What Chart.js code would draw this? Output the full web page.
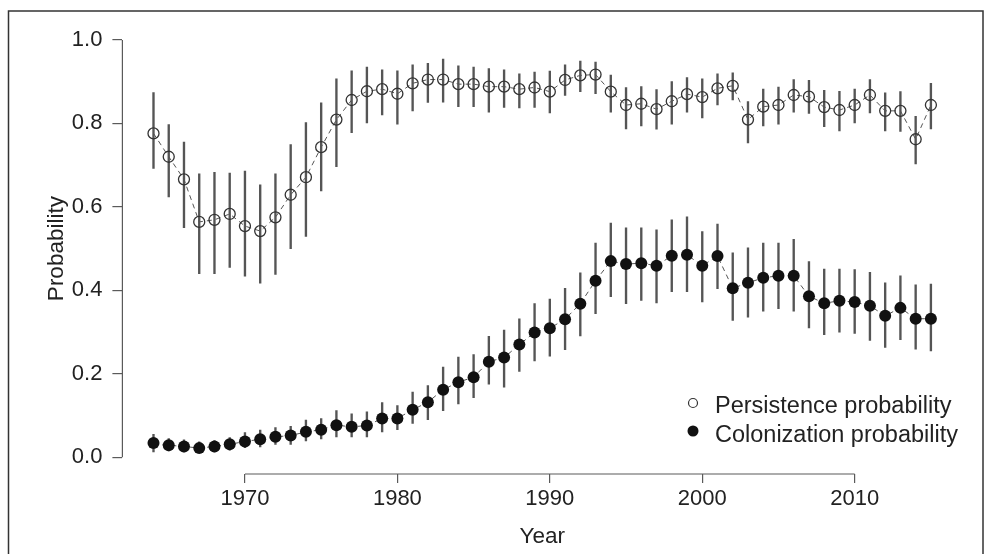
<!DOCTYPE html>
<html>
<head>
<meta charset="utf-8">
<script src="https://cdn.jsdelivr.net/npm/chart.js@4.4.1/dist/chart.umd.min.js"></script>
<style>
  html, body { margin: 0; padding: 0; background: #fff; }
  #wrap { width: 990px; height: 554px; }
</style>
</head>
<body>
<div id="wrap"><canvas id="c" width="990" height="554"></canvas></div>
<script>
const years = [1964,1965,1966,1967,1968,1969,1970,1971,1972,1973,1974,1975,1976,1977,1978,1979,1980,1981,1982,1983,1984,1985,1986,1987,1988,1989,1990,1991,1992,1993,1994,1995,1996,1997,1998,1999,2000,2001,2002,2003,2004,2005,2006,2007,2008,2009,2010,2011,2012,2013,2014,2015];

const persistence = [0.776,0.720,0.666,0.564,0.569,0.583,0.554,0.542,0.575,0.629,0.671,0.743,0.809,0.856,0.877,0.882,0.871,0.896,0.905,0.905,0.894,0.894,0.888,0.888,0.882,0.886,0.876,0.904,0.915,0.917,0.876,0.844,0.847,0.834,0.853,0.870,0.863,0.884,0.890,0.809,0.840,0.844,0.868,0.864,0.839,0.832,0.844,0.868,0.830,0.830,0.762,0.844];
const persistenceLow = [0.692,0.624,0.550,0.440,0.440,0.455,0.434,0.417,0.438,0.500,0.529,0.638,0.696,0.778,0.801,0.820,0.798,0.830,0.850,0.851,0.840,0.840,0.827,0.838,0.837,0.838,0.825,0.867,0.876,0.871,0.827,0.787,0.794,0.786,0.798,0.827,0.813,0.844,0.856,0.753,0.794,0.798,0.827,0.824,0.792,0.782,0.801,0.825,0.782,0.781,0.703,0.787];
const persistenceHigh = [0.874,0.797,0.755,0.679,0.683,0.681,0.686,0.653,0.679,0.749,0.802,0.849,0.907,0.926,0.935,0.928,0.926,0.940,0.944,0.954,0.938,0.935,0.931,0.928,0.919,0.923,0.925,0.940,0.949,0.947,0.916,0.886,0.888,0.881,0.900,0.910,0.907,0.919,0.921,0.852,0.882,0.887,0.905,0.903,0.879,0.877,0.882,0.905,0.873,0.876,0.817,0.896];

const colonization = [0.034,0.029,0.026,0.022,0.026,0.031,0.038,0.043,0.049,0.052,0.061,0.066,0.077,0.073,0.076,0.093,0.093,0.114,0.132,0.162,0.180,0.192,0.229,0.239,0.270,0.299,0.309,0.331,0.368,0.423,0.470,0.463,0.465,0.459,0.483,0.485,0.459,0.482,0.405,0.418,0.430,0.435,0.435,0.386,0.369,0.375,0.372,0.363,0.339,0.358,0.332,0.332];
const colonizationLow = [0.013,0.015,0.013,0.011,0.013,0.017,0.023,0.025,0.031,0.031,0.039,0.044,0.049,0.049,0.049,0.061,0.066,0.081,0.090,0.112,0.128,0.143,0.175,0.168,0.206,0.231,0.242,0.258,0.291,0.344,0.385,0.368,0.376,0.370,0.397,0.397,0.372,0.404,0.328,0.336,0.350,0.356,0.350,0.310,0.294,0.300,0.297,0.280,0.263,0.282,0.259,0.255];
const colonizationHigh = [0.055,0.045,0.042,0.037,0.040,0.047,0.059,0.065,0.071,0.074,0.089,0.093,0.112,0.104,0.109,0.131,0.124,0.156,0.172,0.216,0.240,0.246,0.290,0.305,0.332,0.368,0.379,0.405,0.442,0.513,0.561,0.550,0.550,0.545,0.569,0.576,0.541,0.559,0.490,0.502,0.513,0.513,0.522,0.469,0.451,0.451,0.450,0.443,0.418,0.435,0.413,0.415];

const yTicks = [0.0, 0.2, 0.4, 0.6, 0.8, 1.0];
const xTicks = [1970, 1980, 1990, 2000, 2010];
const legendLabels = ['Persistence probability', 'Colonization probability'];

const FONT = '"Liberation Sans", Arial, sans-serif';
const AXIS_COLOR = '#5a5a5a';
const TEXT_COLOR = '#222';

const framePlugin = {
  id: 'frame',
  beforeDraw(chart) {
    const ctx = chart.ctx;
    ctx.save();
    ctx.fillStyle = '#fff';
    ctx.fillRect(0, 0, chart.width, chart.height);
    ctx.strokeStyle = '#333';
    ctx.lineWidth = 1.5;
    ctx.strokeRect(8.5, 11, 974.5, 600);
    ctx.restore();
  }
};

const axisLinePlugin = {
  id: 'axisLines',
  afterDraw(chart) {
    const ctx = chart.ctx;
    const xs = chart.scales.x, ys = chart.scales.y;
    const ca = chart.chartArea;
    ctx.save();
    ctx.strokeStyle = AXIS_COLOR;
    ctx.lineWidth = 1.2;
    ctx.beginPath();
    ctx.moveTo(ca.left, ys.getPixelForValue(yTicks[0]));
    ctx.lineTo(ca.left, ys.getPixelForValue(yTicks[yTicks.length - 1]));
    ctx.moveTo(xs.getPixelForValue(xTicks[0]), ca.bottom);
    ctx.lineTo(xs.getPixelForValue(xTicks[xTicks.length - 1]), ca.bottom);
    ctx.stroke();

    // legend
    ctx.lineWidth = 1.2;
    ctx.strokeStyle = '#333';
    ctx.beginPath();
    ctx.arc(693, 403, 4.5, 0, Math.PI * 2);
    ctx.stroke();
    ctx.fillStyle = '#111';
    ctx.beginPath();
    ctx.arc(693, 431, 5.5, 0, Math.PI * 2);
    ctx.fill();
    ctx.font = '23.5px ' + FONT;
    ctx.fillStyle = TEXT_COLOR;
    ctx.textBaseline = 'alphabetic';
    ctx.textAlign = 'left';
    ctx.fillText(legendLabels[0], 715, 413);
    ctx.fillText(legendLabels[1], 715, 441.5);
    ctx.restore();
  }
};

function pts(vals) { return years.map((yr, i) => ({ x: yr, y: vals[i] })); }
function bars(lo, hi) { return years.map((yr, i) => ({ x: yr, y: [lo[i], hi[i]] })); }

new Chart(document.getElementById('c'), {
  type: 'line',
  data: {
    datasets: [
      {
        label: legendLabels[0],
        data: pts(persistence),
        borderColor: '#555',
        borderWidth: 1,
        borderDash: [5, 4],
        pointRadius: 5.5,
        pointBorderWidth: 1.3,
        pointBorderColor: '#333',
        pointBackgroundColor: 'rgba(0,0,0,0)',
        tension: 0,
        order: 0
      },
      {
        label: legendLabels[1],
        data: pts(colonization),
        borderColor: '#555',
        borderWidth: 1,
        borderDash: [5, 4],
        pointRadius: 6,
        pointBorderWidth: 0,
        pointBorderColor: '#111',
        pointBackgroundColor: '#111',
        tension: 0,
        order: 0
      },
      {
        type: 'bar',
        label: 'pci',
        data: bars(persistenceLow, persistenceHigh),
        backgroundColor: '#555',
        barThickness: 1.7,
        grouped: false,
        order: 1
      },
      {
        type: 'bar',
        label: 'cci',
        data: bars(colonizationLow, colonizationHigh),
        backgroundColor: '#555',
        barThickness: 1.7,
        grouped: false,
        order: 1
      }
    ]
  },
  options: {
    responsive: false,
    animation: false,
    devicePixelRatio: 1,
    layout: { padding: { left: 0, right: 28, top: 22.3, bottom: 0 } },
    plugins: { legend: { display: false }, tooltip: { enabled: false } },
    scales: {
      x: {
        type: 'linear',
        min: 1961.96,
        max: 2017.04,
        offset: false,
        afterFit(s) { s.height = 80; },
        afterBuildTicks(s) { s.ticks = xTicks.map(v => ({ value: v })); },
        border: { display: false },
        grid: { display: true, offset: false, drawOnChartArea: false, drawTicks: true, tickLength: 9, color: AXIS_COLOR, lineWidth: 1.2 },
        ticks: { color: TEXT_COLOR, font: { family: FONT, size: 22 }, padding: 3, maxRotation: 0, autoSkip: false, callback: v => String(v) },
        title: { display: true, text: 'Year', color: TEXT_COLOR, font: { family: FONT, size: 22.5 }, padding: { top: 0, bottom: 3.5 } }
      },
      y: {
        type: 'linear',
        min: -0.04,
        max: 1.04,
        afterFit(s) { s.width = 122.4; },
        afterBuildTicks(s) { s.ticks = yTicks.map(v => ({ value: v })); },
        border: { display: false },
        grid: { display: true, offset: false, drawOnChartArea: false, drawTicks: true, tickLength: 10, color: AXIS_COLOR, lineWidth: 1.2 },
        ticks: { color: TEXT_COLOR, font: { family: FONT, size: 22 }, padding: 10, autoSkip: false, callback: v => Number(v).toFixed(1) },
        title: { display: true, text: 'Probability', color: TEXT_COLOR, font: { family: FONT, size: 22.5 }, padding: { top: 43.5, bottom: 0 } }
      }
    }
  },
  plugins: [framePlugin, axisLinePlugin]
});
</script>
</body>
</html>
